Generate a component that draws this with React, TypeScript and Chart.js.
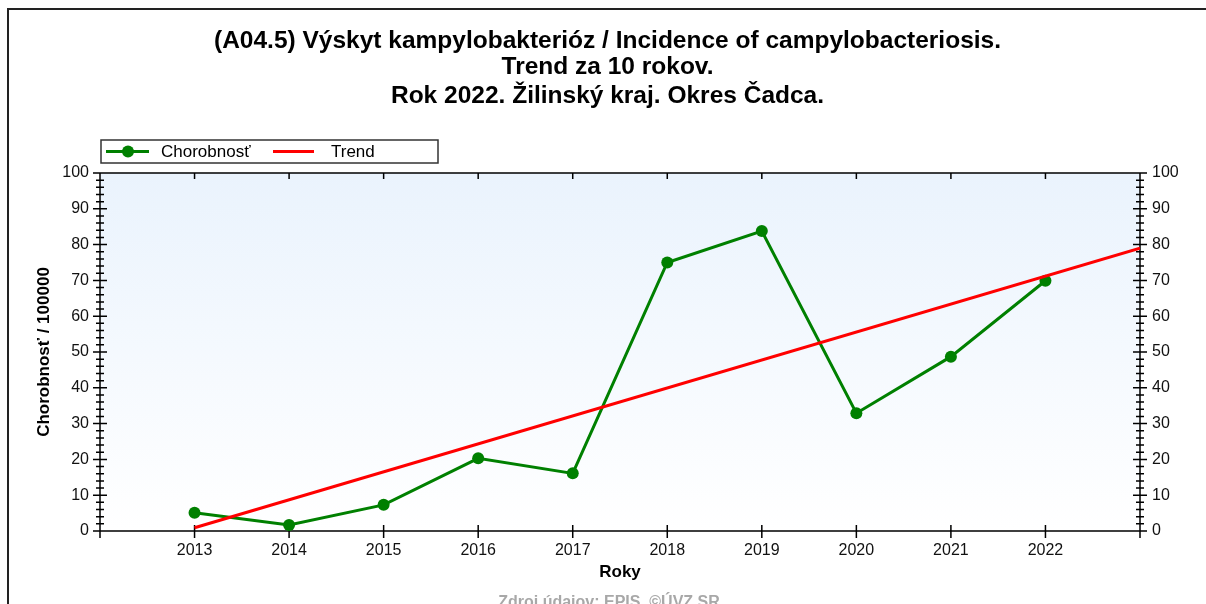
import React, { useEffect, useRef } from 'react';
import { Chart, registerables } from 'chart.js';

Chart.register(...registerables);

const years = [2013, 2014, 2015, 2016, 2017, 2018, 2019, 2020, 2021, 2022];
const incidence = [5.1, 1.7, 7.3, 20.3, 16.1, 75.0, 83.8, 32.9, 48.7, 69.9];
const trendYears = [2013, 2023];
const trendValues = [0.9, 79.0];
const yTickValues = [0, 10, 20, 30, 40, 50, 60, 70, 80, 90, 100];
const titleLines = [
  '(A04.5) Výskyt kampylobakterióz / Incidence of campylobacteriosis.',
  'Trend za 10 rokov.',
  'Rok 2022. Žilinský kraj. Okres Čadca.',
];
const legendLabels = ['Chorobnosť', 'Trend'];
const xTitle = 'Roky';
const yTitle = 'Chorobnosť / 100000';
const sourceText = 'Zdroj údajov: EPIS, ©ÚVZ SR';

const FONT = '"Liberation Sans", Arial, sans-serif';
const GREEN = '#008000';
const RED = '#ff0000';
const INK = '#000000';

const decor = {
  id: 'decor',
  beforeDraw(chart: any) {
    const { ctx, chartArea: a } = chart;
    const g = ctx.createLinearGradient(0, a.top, 0, a.bottom);
    g.addColorStop(0, '#eaf3fd');
    g.addColorStop(1, '#ffffff');
    ctx.save();
    ctx.fillStyle = g;
    ctx.fillRect(a.left, a.top, a.right - a.left, a.bottom - a.top);
    ctx.restore();
  },
  beforeDatasetsDraw(chart: any) {
    const { ctx, chartArea: a, scales } = chart;
    const xs = scales.x;
    const ys = scales.y;
    ctx.save();
    ctx.strokeStyle = INK;
    ctx.lineWidth = 1.5;
    ctx.beginPath();
    ctx.moveTo(a.left, a.top);
    ctx.lineTo(a.right, a.top);
    ctx.moveTo(a.left - 6, a.bottom);
    ctx.lineTo(a.right, a.bottom);
    ctx.moveTo(a.left, a.top);
    ctx.lineTo(a.left, a.bottom + 7);
    ctx.moveTo(a.right, a.top);
    ctx.lineTo(a.right, a.bottom + 7);
    for (let v = 0; v <= 100; v += 2) {
      const py = ys.getPixelForValue(v);
      const len = v % 10 === 0 ? 7 : 4;
      ctx.moveTo(a.left - len, py);
      ctx.lineTo(a.left + len, py);
      ctx.moveTo(a.right - len, py);
      ctx.lineTo(a.right + len, py);
    }
    years.forEach((yr) => {
      const px = xs.getPixelForValue(yr);
      ctx.moveTo(px, a.bottom - 6);
      ctx.lineTo(px, a.bottom + 7);
      ctx.moveTo(px, a.top);
      ctx.lineTo(px, a.top + 6);
    });
    ctx.stroke();
    ctx.restore();
  },
  afterDraw(chart: any) {
    const { ctx, width } = chart;
    ctx.save();
    ctx.fillStyle = INK;
    ctx.textAlign = 'center';
    ctx.textBaseline = 'middle';
    ctx.font = `bold 24.5px ${FONT}`;
    const ty = [31, 57, 86];
    titleLines.forEach((t, i) => ctx.fillText(t, width / 2, ty[i]));

    const bx = 92, by = 130, bw = 337, bh = 23;
    ctx.strokeStyle = '#333';
    ctx.lineWidth = 1.5;
    ctx.strokeRect(bx, by, bw, bh);
    const ly = by + bh / 2;
    ctx.strokeStyle = GREEN;
    ctx.lineWidth = 3;
    ctx.beginPath();
    ctx.moveTo(97, ly);
    ctx.lineTo(140, ly);
    ctx.stroke();
    ctx.fillStyle = GREEN;
    ctx.beginPath();
    ctx.arc(119, ly, 6, 0, Math.PI * 2);
    ctx.fill();
    ctx.strokeStyle = RED;
    ctx.beginPath();
    ctx.moveTo(264, ly);
    ctx.lineTo(305, ly);
    ctx.stroke();
    ctx.fillStyle = INK;
    ctx.textAlign = 'left';
    ctx.font = `17px ${FONT}`;
    ctx.fillText(legendLabels[0], 152, ly + 1);
    ctx.fillText(legendLabels[1], 322, ly + 1);

    ctx.fillStyle = '#a8a8a8';
    ctx.textAlign = 'center';
    ctx.font = `bold 16px ${FONT}`;
    ctx.fillText(sourceText, 600, 593);
    ctx.restore();
  },
};

export default function App() {
  const ref = useRef<HTMLCanvasElement | null>(null);

  useEffect(() => {
    if (!ref.current) return;
    const tickFont = { size: 16, family: FONT };
    const yTicksBuild = (ax: any) => {
      ax.ticks = yTickValues.map((v) => ({ value: v }));
    };
    const chart = new Chart(ref.current, {
      type: 'line',
      data: {
        datasets: [
          {
            label: legendLabels[1],
            data: trendYears.map((x, i) => ({ x, y: trendValues[i] })),
            borderColor: RED,
            backgroundColor: RED,
            borderWidth: 3,
            pointRadius: 0,
            tension: 0,
            yAxisID: 'y',
          },
          {
            label: legendLabels[0],
            data: years.map((x, i) => ({ x, y: incidence[i] })),
            borderColor: GREEN,
            backgroundColor: GREEN,
            borderWidth: 3,
            pointRadius: 6,
            pointBackgroundColor: GREEN,
            pointBorderColor: GREEN,
            pointBorderWidth: 0,
            tension: 0,
            yAxisID: 'y',
          },
        ],
      },
      options: {
        animation: false,
        responsive: false,
        devicePixelRatio: 1,
        layout: { padding: { top: 163, left: 0, right: 0, bottom: 0 } },
        plugins: {
          legend: { display: false },
          title: { display: false },
          tooltip: { enabled: false },
        },
        scales: {
          x: {
            type: 'linear',
            min: 2012,
            max: 2023,
            afterBuildTicks: (ax: any) => {
              ax.ticks = years.map((v) => ({ value: v }));
            },
            afterFit: (s: any) => {
              s.height = 73;
            },
            ticks: {
              callback: (v: any) => String(v),
              font: tickFont,
              color: '#111',
              padding: 10,
              maxRotation: 0,
              autoSkip: false,
            },
            grid: { display: false, drawTicks: false },
            border: { display: false },
            title: {
              display: true,
              text: xTitle,
              color: INK,
              font: { size: 17, weight: 'bold', family: FONT },
              padding: { top: 0, bottom: 21 },
            },
          },
          y: {
            position: 'left',
            min: 0,
            max: 100,
            afterBuildTicks: yTicksBuild,
            afterFit: (s: any) => {
              s.width = 91;
            },
            ticks: { font: tickFont, color: '#111', padding: 11 },
            grid: { display: false, drawTicks: false },
            border: { display: false },
            title: {
              display: true,
              text: yTitle,
              color: INK,
              font: { size: 17, weight: 'bold', family: FONT },
              padding: { top: 25, bottom: 0 },
            },
          },
          y2: {
            position: 'right',
            min: 0,
            max: 100,
            afterBuildTicks: yTicksBuild,
            afterFit: (s: any) => {
              s.width = 66;
            },
            ticks: { font: tickFont, color: '#111', padding: 12 },
            grid: { display: false, drawTicks: false },
            border: { display: false },
          },
        },
      } as any,
      plugins: [decor],
    });
    return () => chart.destroy();
  }, []);

  return (
    <div
      style={{
        position: 'absolute',
        left: 7,
        top: 8,
        width: 1197,
        height: 594,
        borderTop: '2px solid #222',
        borderLeft: '2px solid #222',
        overflow: 'hidden',
        background: '#fff',
      }}
    >
      <canvas ref={ref} width={1197} height={594} style={{ display: 'block' }} />
    </div>
  );
}
